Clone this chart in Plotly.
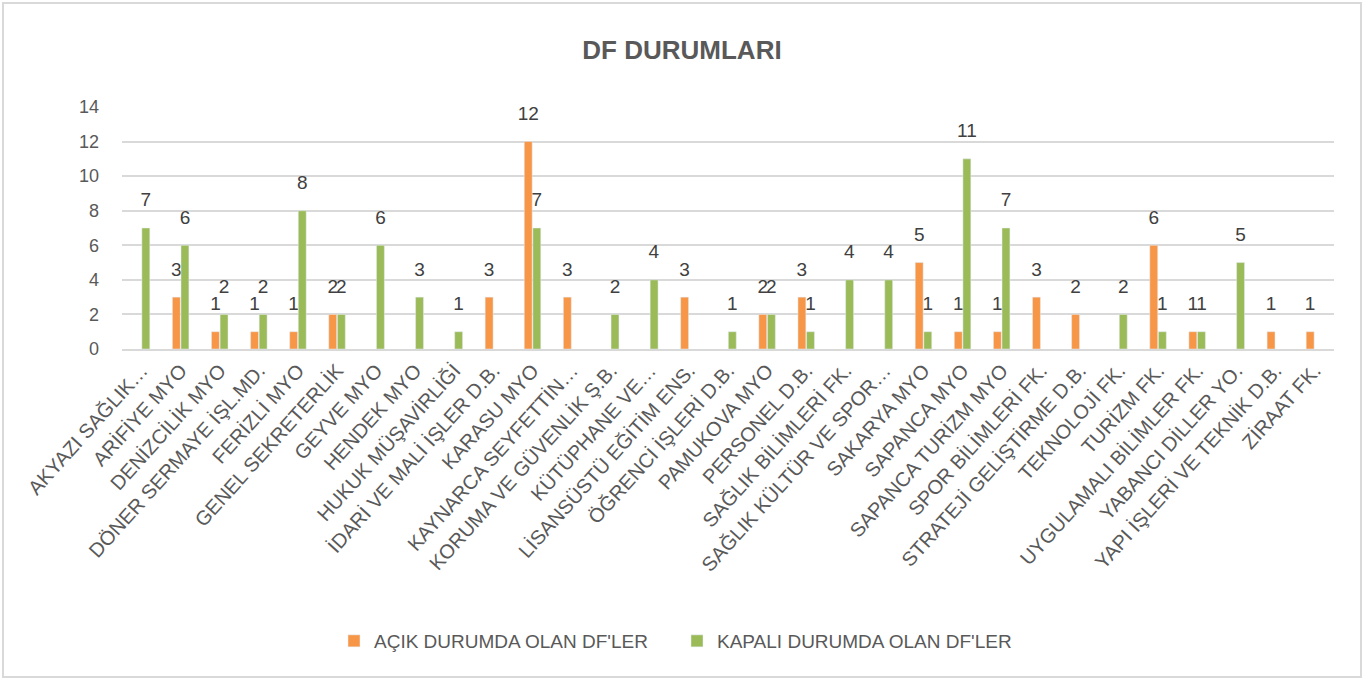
import plotly.graph_objects as go

categories = [
    "AKYAZI SAĞLIK…", "ARİFİYE MYO", "DENİZCİLİK MYO", "DÖNER SERMAYE İŞL.MD.",
    "FERİZLİ MYO", "GENEL SEKRETERLİK", "GEYVE MYO", "HENDEK MYO",
    "HUKUK MÜŞAVİRLİĞİ", "İDARİ VE MALİ İŞLER D.B.", "KARASU MYO",
    "KAYNARCA SEYFETTİN…", "KORUMA VE GÜVENLİK Ş.B.", "KÜTÜPHANE VE…",
    "LİSANSÜSTÜ EĞİTİM ENS.", "ÖĞRENCİ İŞLERİ D.B.", "PAMUKOVA MYO",
    "PERSONEL D.B.", "SAĞLIK BİLİMLERİ FK.", "SAĞLIK KÜLTÜR VE SPOR…",
    "SAKARYA MYO", "SAPANCA MYO", "SAPANCA TURİZM MYO", "SPOR BİLİMLERİ FK.",
    "STRATEJİ GELİŞTİRME D.B.", "TEKNOLOJİ FK.", "TURİZM FK.",
    "UYGULAMALI BİLİMLER FK.", "YABANCI DİLLER YO.", "YAPI İŞLERİ VE TEKNİK D.B.",
    "ZİRAAT FK.",
]
acik = [None, 3, 1, 1, 1, 2, None, None, None, 3, 12, 3, None, None, 3, None,
        2, 3, None, None, 5, 1, 1, 3, 2, None, 6, 1, None, 1, 1]
kapali = [7, 6, 2, 2, 8, 2, 6, 3, 1, None, 7, None, 2, 4, None, 1,
          2, 1, 4, 4, 1, 11, 7, None, None, 2, 1, 1, 5, None, None]
series_names = ["AÇIK DURUMDA OLAN DF'LER", "KAPALI DURUMDA OLAN DF'LER"]
y_ticks = [0, 2, 4, 6, 8, 10, 12, 14]

FONT = "Liberation Sans Narrow, Liberation Sans, Arial, sans-serif"
label_font = dict(family=FONT, size=12, color="#404040")
tmpl = "<span style='font-size:19px'>%{y}</span><br> "

fig = go.Figure()
fig.add_trace(go.Bar(
    x=categories, y=acik, name=series_names[0], marker_color="#F79646",
    texttemplate=tmpl, textposition="outside", textfont=label_font,
    cliponaxis=False, constraintext="none",
))
fig.add_trace(go.Bar(
    x=categories, y=kapali, name=series_names[1], marker_color="#9BBB59",
    texttemplate=tmpl, textposition="outside", textfont=label_font,
    cliponaxis=False, constraintext="none",
))

W, H = 1212, 242
L, T = 122, 107
fig.update_layout(
    width=1364, height=680,
    margin=dict(l=L, r=1364 - L - W, t=T, b=680 - T - H, autoexpand=False),
    paper_bgcolor="white", plot_bgcolor="white",
    barmode="group", bargap=0.56, bargroupgap=0.08,
    font=dict(family=FONT, color="#595959"),
    title=dict(text="<b>DF DURUMLARI</b>", x=0.5, xanchor="center",
               y=1 - 50 / 680, yanchor="middle",
               font=dict(family="Liberation Sans, Arial, sans-serif", size=26, color="#595959")),
    legend=dict(orientation="h", x=(334 - L) / W, xanchor="left", y=(T + H - 641) / H,
                yanchor="middle", font=dict(family=FONT, size=19, color="#595959"),
                itemwidth=30, tracegroupgap=0, entrywidth=298),
    showlegend=True,
)
fig.update_xaxes(tickangle=-48, tickfont=dict(family=FONT, size=20, color="#595959"),
                 showline=True, linecolor="#d9d9d9", linewidth=2, ticks="",
                 showgrid=False, automargin=False)
fig.update_yaxes(range=[0, 14], tickvals=y_ticks, showgrid=True, gridcolor="#d9d9d9",
                 gridwidth=2, zeroline=False, showline=False, automargin=False,
                 tickfont=dict(family=FONT, size=18, color="#595959"), ticks="",
                 ticklabelstandoff=22)

# chart outer border
fig.add_shape(type="rect", xref="paper", yref="paper",
              x0=(3 - L) / W, x1=(1361 - L) / W,
              y0=(T + H - 677) / H, y1=(T + H - 3) / H,
              line=dict(color="#d9d9d9", width=2), layer="below")

fig.write_html("out.html", config={"displayModeBar": False},
               post_script="document.body.style.margin='0';")
